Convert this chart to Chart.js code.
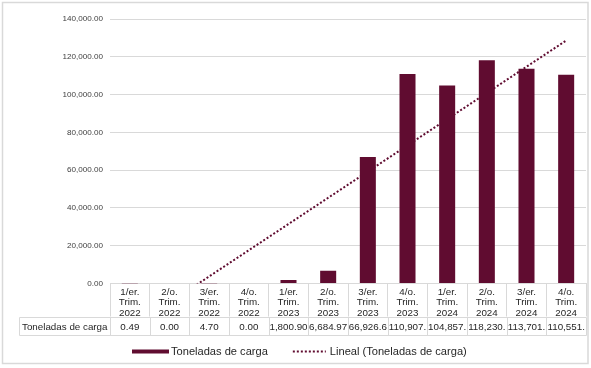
<!DOCTYPE html>
<html>
<head>
<meta charset="utf-8">
<script src="https://cdn.jsdelivr.net/npm/chart.js@4.4.0/dist/chart.umd.min.js"></script>
<style>
  html, body { margin: 0; padding: 0; background: #ffffff; }
  #wrap { width: 591px; height: 368px; }
</style>
</head>
<body>
<div id="wrap"><canvas id="c" width="591" height="368"></canvas></div>
<script>
// ---------- DATA ----------
const categories = [
  ['1/er.', 'Trim.', '2022'], ['2/o.', 'Trim.', '2022'], ['3/er.', 'Trim.', '2022'], ['4/o.', 'Trim.', '2022'],
  ['1/er.', 'Trim.', '2023'], ['2/o.', 'Trim.', '2023'], ['3/er.', 'Trim.', '2023'], ['4/o.', 'Trim.', '2023'],
  ['1/er.', 'Trim.', '2024'], ['2/o.', 'Trim.', '2024'], ['3/er.', 'Trim.', '2024'], ['4/o.', 'Trim.', '2024']
];
const seriesName = 'Toneladas de carga';
const trendName = 'Lineal (Toneladas de carga)';
const toneladas = [0.49, 0.00, 4.70, 0.00, 1800.90, 6684.97, 66926.62, 110907.35, 104857.41, 118230.56, 113701.27, 110551.83];
// linear trendline: value at first and at last category
const trendEnds = [-24000, 128600];
const yTickValues = [0, 20000, 40000, 60000, 80000, 100000, 120000, 140000];

// ---------- STYLE ----------
const MAROON = '#600c30';
const GRID = '#d9d9d9';
const FONT = "'Liberation Sans', Arial, sans-serif";
const fmt = v => Number(v).toLocaleString('en-US', { minimumFractionDigits: 2, maximumFractionDigits: 2 });

const trendData = categories.map((c, i) => i === 0 ? trendEnds[0] : (i === categories.length - 1 ? trendEnds[1] : null));

const tablePlugin = {
  id: 'excelTable',
  afterDraw(chart) {
    const ctx = chart.ctx;
    const xs = chart.scales.x;
    const area = chart.chartArea;
    const n = categories.length;
    const colW = (area.right - area.left) / n;
    const rowTop = Math.round(xs.top + 33) + 0.5;
    const rowBot = rowTop + 18;
    const labelLeft = 19.5;
    ctx.save();
    ctx.strokeStyle = GRID;
    ctx.lineWidth = 1;
    ctx.beginPath();
    ctx.moveTo(labelLeft, rowTop); ctx.lineTo(area.right + 0.5, rowTop);
    ctx.moveTo(labelLeft, rowBot); ctx.lineTo(area.right + 0.5, rowBot);
    ctx.moveTo(labelLeft, rowTop); ctx.lineTo(labelLeft, rowBot);
    for (let i = 0; i <= n; i++) {
      const x = Math.round(area.left + i * colW) + 0.5;
      ctx.moveTo(x, rowTop); ctx.lineTo(x, rowBot);
    }
    ctx.stroke();
    // texts
    ctx.fillStyle = '#262626';
    ctx.font = '9.8px ' + FONT;
    ctx.textBaseline = 'middle';
    ctx.textAlign = 'center';
    const ty = (rowTop + rowBot) / 2 + 0.5;
    ctx.fillText(seriesName, (labelLeft + area.left) / 2, ty);
    for (let i = 0; i < n; i++) {
      let s = fmt(toneladas[i]);
      while (ctx.measureText(s).width > colW - 1.2 && s.length > 1) s = s.slice(0, -1);
      const cx = xs.getPixelForValue(i);
      ctx.fillText(s, cx, ty);
    }
    // legend
    const ly = 351.5;
    ctx.font = '11.1px ' + FONT;
    ctx.textAlign = 'left';
    let x = 132;
    ctx.fillStyle = MAROON;
    ctx.fillRect(x, ly - 2, 37, 4);
    x += 39;
    ctx.fillStyle = '#262626';
    ctx.fillText(seriesName, x, ly);
    x += ctx.measureText(seriesName).width + 25;
    ctx.strokeStyle = MAROON;
    ctx.lineWidth = 2;
    ctx.setLineDash([2, 2]);
    ctx.beginPath();
    ctx.moveTo(x, ly); ctx.lineTo(x + 33, ly);
    ctx.stroke();
    ctx.setLineDash([]);
    x += 37;
    ctx.fillText(trendName, x, ly);
    // outer border
    ctx.strokeStyle = GRID;
    ctx.lineWidth = 1.5;
    ctx.strokeRect(2.5, 2.5, 585.5, 361);
    ctx.restore();
  }
};

new Chart(document.getElementById('c').getContext('2d'), {
  type: 'bar',
  data: {
    labels: categories,
    datasets: [
      {
        type: 'bar', label: seriesName, data: toneladas,
        backgroundColor: MAROON, borderWidth: 0,
        categoryPercentage: 1, barPercentage: 0.404, order: 1
      },
      {
        type: 'line', label: trendName, data: trendData,
        borderColor: MAROON, borderWidth: 2, borderDash: [2, 2],
        pointRadius: 0, spanGaps: true, fill: false, tension: 0, order: 2,
        clip: { left: 10, right: 10, top: 10, bottom: 0 }
      }
    ]
  },
  options: {
    responsive: false, animation: false, devicePixelRatio: 1,
    layout: { padding: { left: 0, top: 19, right: 5, bottom: 0 } },
    plugins: { legend: { display: false }, tooltip: { enabled: false } },
    scales: {
      x: {
        offset: true,
        grid: { offset: true, drawOnChartArea: false, drawTicks: true, tickLength: 33, color: GRID, lineWidth: 1 },
        border: { display: true, color: GRID, width: 1 },
        ticks: {
          padding: -29.6, autoSkip: false, maxRotation: 0, minRotation: 0,
          color: '#262626', font: { family: FONT, size: 9.8, lineHeight: 1.08 }
        },
        afterFit(s) { s.height = 84.5; }
      },
      y: {
        min: yTickValues[0], max: yTickValues[yTickValues.length - 1],
        afterBuildTicks(s) { s.ticks = yTickValues.map(v => ({ value: v })); },
        grid: { color: GRID, lineWidth: 1, drawTicks: false },
        border: { display: false },
        ticks: { padding: 7, color: '#404040', font: { family: FONT, size: 8.1 }, callback: v => fmt(v) },
        afterFit(s) { s.width = 110; }
      }
    }
  },
  plugins: [tablePlugin]
});
</script>
</body>
</html>
